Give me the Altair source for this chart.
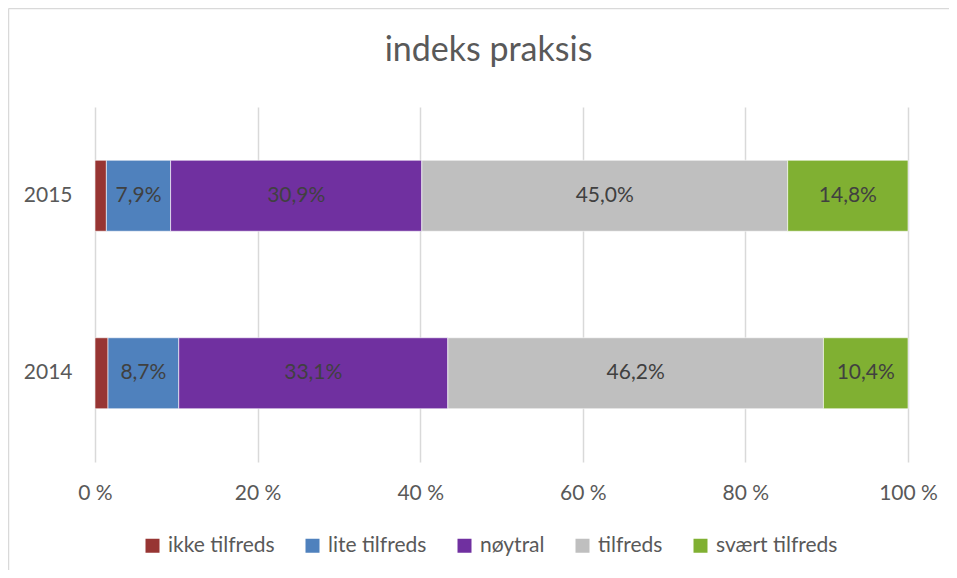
import altair as alt
import pandas as pd

years = ["2015", "2014"]
categories = ["ikke tilfreds", "lite tilfreds", "nøytral", "tilfreds", "svært tilfreds"]
colors = ["#973533", "#4F81BD", "#7030A0", "#BFBFBF", "#80B032"]
values_2015 = [1.4, 7.9, 30.9, 45.0, 14.8]
values_2014 = [1.6, 8.7, 33.1, 46.2, 10.4]
x_ticks = [0, 20, 40, 60, 80, 100]

FONT = "Lato"
FS = 21

rows = []
for y, vals in zip(years, [values_2015, values_2014]):
    for i, (c, v) in enumerate(zip(categories, vals)):
        lab = f"{v:.1f}%".replace(".", ",") if i > 0 else ""
        rows.append({"year": y, "cat": c, "order": i, "value": v, "label": lab})
df = pd.DataFrame(rows)

base = alt.Chart(df).transform_stack(
    stack="value", groupby=["year"], as_=["x0", "x1"], sort=[alt.SortField("order")]
).transform_calculate(mid="(datum.x0 + datum.x1) / 2")

yenc = alt.Y(
    "year:N", sort=years,
    scale=alt.Scale(paddingInner=0.6, paddingOuter=0.3),
    axis=alt.Axis(title=None, domain=False, ticks=False, grid=False,
                  labelFontSize=FS, labelColor="#595959", labelPadding=23, labelFont=FONT),
)

bars = base.mark_bar(stroke="white", strokeWidth=0.6).encode(
    y=yenc,
    x=alt.X("x0:Q", scale=alt.Scale(domain=[0, 100]),
            axis=alt.Axis(values=x_ticks, labelExpr="datum.value + ' %'", title=None,
                          grid=True, gridColor="#d9d9d9", gridWidth=1.5, labelFlush=False,
                          domain=False, ticks=False, labelFontSize=FS, labelPadding=20,
                          labelColor="#595959", labelFont=FONT)),
    x2="x1:Q",
    color=alt.Color("cat:N", sort=categories,
                    scale=alt.Scale(domain=categories, range=colors),
                    legend=alt.Legend(title=None, orient="none", legendX=47, legendY=428,
                                      direction="horizontal", symbolType="square",
                                      symbolSize=196, symbolStrokeWidth=0,
                                      labelFontSize=FS, labelColor="#595959",
                                      labelFont=FONT, columnPadding=27, labelOffset=5)),
    order=alt.Order("order:Q"),
)

texts = base.mark_text(fontSize=FS, color="#404040", font=FONT).encode(
    y=alt.Y("year:N", sort=years),
    x=alt.X("mid:Q"),
    text="label:N",
)

frame_df = pd.DataFrame({"a": [0]})
border_top = alt.Chart(frame_df).mark_rule(color="#d9d9d9", strokeWidth=1.5).encode(
    x=alt.value(-86.5), x2=alt.value(1000), y=alt.value(-98.5)
)
border_left = alt.Chart(frame_df).mark_rule(color="#d9d9d9", strokeWidth=1.5).encode(
    x=alt.value(-86.5), y=alt.value(-98.5), y2=alt.value(560)
)

chart = alt.layer(border_top, border_left, bars, texts).properties(
    width=813, height=355,
    title=alt.TitleParams("indeks praksis", fontSize=34, color="#595959", font=FONT,
                          fontWeight="normal", anchor="middle", offset=0, dy=87, dx=-13,
                          baseline="alphabetic", frame="group"),
    autosize=alt.AutoSizeParams(type="none"),
    padding={"left": 87, "top": 99, "right": 41, "bottom": 108},
).configure(background="white").configure_view(stroke=None)

chart.save("out.html", embed_options={"renderer": "svg", "actions": False})
